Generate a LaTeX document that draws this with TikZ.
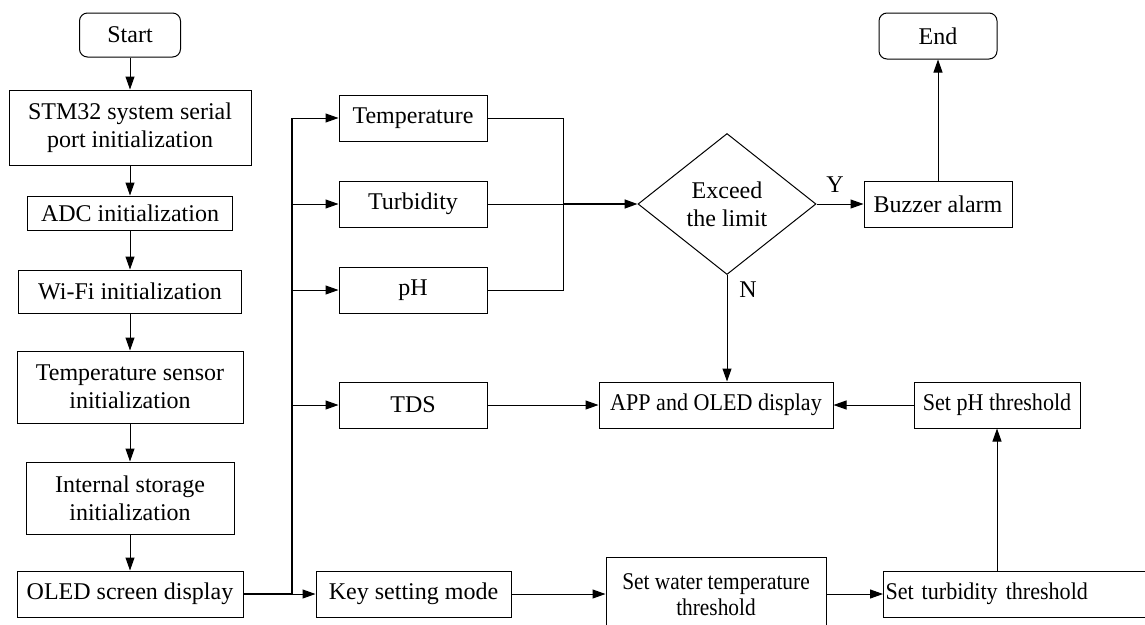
\documentclass[tikz,border=0pt]{standalone}
\usepackage{fontspec}
\setmainfont{Liberation Serif}
\newfontfamily\condA[FakeStretch=0.92]{Liberation Serif}
\newfontfamily\condB[FakeStretch=0.89]{Liberation Serif}
\usetikzlibrary{shapes.geometric,arrows.meta}
\begin{document}
\begin{tikzpicture}[x=1pt,y=-1pt,
  box/.style={draw,line width=1pt,minimum height=46pt,inner sep=0pt,align=center,font=\fontsize{24}{28}\selectfont},
  smallbox/.style={box,font=\condA\fontsize{24}{28}\selectfont},
  term/.style={box,rounded corners=8pt},
  arr/.style={-{Triangle[length=13pt,width=9pt]},line width=1pt},
  ln/.style={line width=1pt},
  lbl/.style={font=\fontsize{24}{28}\selectfont,inner sep=0pt}]
\useasboundingbox (0,0) rectangle (1145,624);
\clip (0,0) rectangle (1145,624);
% left column
\node[term,minimum width=101pt,minimum height=44pt] (start) at (130,35) {Start};
\node[box,minimum width=242pt,minimum height=75pt] (stm) at (130,127.5) {STM32 system serial\\port initialization};
\node[box,minimum width=205pt,minimum height=34pt] (adc) at (130,213) {ADC initialization};
\node[box,minimum width=223pt,minimum height=43pt] (wifi) at (130,291.5) {Wi-Fi initialization};
\node[box,minimum width=226pt,minimum height=72pt] (tsens) at (130,387) {Temperature sensor\\initialization};
\node[box,minimum width=208pt,minimum height=72pt] (store) at (130,498) {Internal storage\\initialization};
\node[box,minimum width=226pt,minimum height=46pt] (oled) at (130,594) {OLED screen display};
% middle column
\node[box,minimum width=148pt] (temp) at (413,118) {Temperature};
\node[box,minimum width=148pt] (turb) at (413,204) {Turbidity};
\node[box,minimum width=148pt] (ph) at (413,290) {pH};
\node[box,minimum width=148pt] (tds) at (413,405) {TDS};
\node[box,minimum width=195pt] (key) at (413.5,594) {Key setting mode};
% right part
\node[draw,diamond,line width=1pt,inner sep=0pt,aspect=1.26,minimum width=178pt,minimum height=141pt,align=center,font=\fontsize{24}{28}\selectfont] (dia) at (727,204) {Exceed\\the limit};
\node[box,minimum width=148pt] (buzz) at (938,204) {Buzzer alarm};
\node[term,minimum width=118pt] (end) at (938,36) {End};
\node[smallbox,minimum width=234pt] (app) at (716,405) {APP and OLED display};
\node[smallbox,minimum width=166pt] (phset) at (997,405) {Set pH threshold};
\node[box,minimum width=220pt,minimum height=76pt,font=\condB\fontsize{24}{26}\selectfont] (water) at (716,595) {Set water temperature\\threshold};
\node[smallbox,anchor=west,inner xsep=2pt,text width=276pt,align=left] (turbset) at (883,594) {Set turbidity threshold};
% labels
\node[lbl] (ylab) at (835,185) {Y};
\node[lbl] (nlab) at (748,290) {N};
% left column arrows
\draw[arr] (start) -- (stm);
\draw[arr] (stm) -- (adc);
\draw[arr] (adc) -- (wifi);
\draw[arr] (wifi) -- (tsens);
\draw[arr] (tsens) -- (store);
\draw[arr] (store) -- (oled);
% bus
\coordinate (bt) at (292,118);
\coordinate (bb) at (292,594);
\draw[line width=1.6pt] (oled.east) -- (bb) -- (bt);
\draw[arr] (bb) -- (key.west);
\draw[arr] (bt) -- (temp.west);
\draw[arr] (bt |- turb.west) -- (turb.west);
\draw[arr] (bt |- ph.west) -- (ph.west);
\draw[arr] (bt |- tds.west) -- (tds.west);
% collector
\coordinate (c1) at (563,118);
\draw[ln] (temp.east) -- (temp.east -| c1) -- (ph.east -| c1) -- (ph.east);
\draw[ln] (turb.east) -- (turb.east -| c1);
\draw[arr,line width=1.5pt] (turb.east -| c1) -- (dia.west);
\draw[arr] (dia.east) -- (buzz.west);
\draw[arr] (buzz.north) -- (end.south);
\draw[arr] (dia.south) -- (dia.south |- app.north);
\draw[arr] (tds.east) -- (app.west);
\draw[arr] (phset.west) -- (app.east);
\draw[arr] (key.east) -- (key.east -| water.west);
\draw[arr] (water.east |- turbset.west) -- (turbset.west);
\draw[arr] (phset.south |- turbset.north) -- (phset.south);
\end{tikzpicture}
\end{document}
